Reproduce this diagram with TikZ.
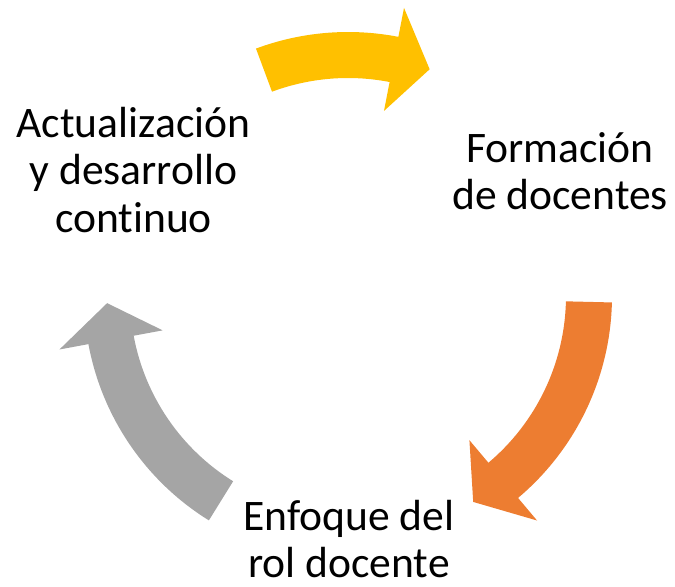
\documentclass[tikz,border=0pt]{standalone}
\usepackage{fontspec}
\setmainfont{Carlito}[Ligatures=NoCommon]
\definecolor{cycleyellow}{HTML}{FFC000}
\definecolor{cycleorange}{HTML}{ED7D31}
\definecolor{cyclegray}{HTML}{A5A5A5}
\begin{document}
\begin{tikzpicture}[x=0.02cm, y=0.02cm]
	% Define styles for the labels
	\tikzstyle{label} = [align=center, font=\fontsize{24.8}{26.8}\selectfont, inner sep=0pt]

	\useasboundingbox (-348,-290) rectangle (327,296);

	% Draw the arrows of the cycle
	\fill[cycleyellow] (110.4:218) arc[start angle=110.4, end angle=79, radius=218]
		-- (79:188.5) -- (70.2:241) -- (79:293.5) -- (79:264)
		arc[start angle=79, end angle=110.4, radius=264] -- cycle;
	\fill[cycleorange] (-1.4:218) arc[start angle=-1.4, end angle=-49.9, radius=218]
		-- (-49.9:188.5) -- (-58.7:241) -- (-49.9:293.5) -- (-49.9:264)
		arc[start angle=-49.9, end angle=-1.4, radius=264] -- cycle;
	\fill[cyclegray] (238.2:218) arc[start angle=238.2, end angle=190.5, radius=218]
		-- (190.5:188.5) -- (181.7:241) -- (190.5:293.5) -- (190.5:264)
		arc[start angle=190.5, end angle=238.2, radius=264] -- cycle;

	% Place the labels
	\node[label] (actualizacion) at (-214.5, 126) {Actualización\\y desarrollo\\continuo};
	\node[label] (formacion) at (212, 125) {Formación\\de docentes};
	\node[label] (enfoque) at (1, -243) {Enfoque del\\rol docente};

\end{tikzpicture}
\end{document}
